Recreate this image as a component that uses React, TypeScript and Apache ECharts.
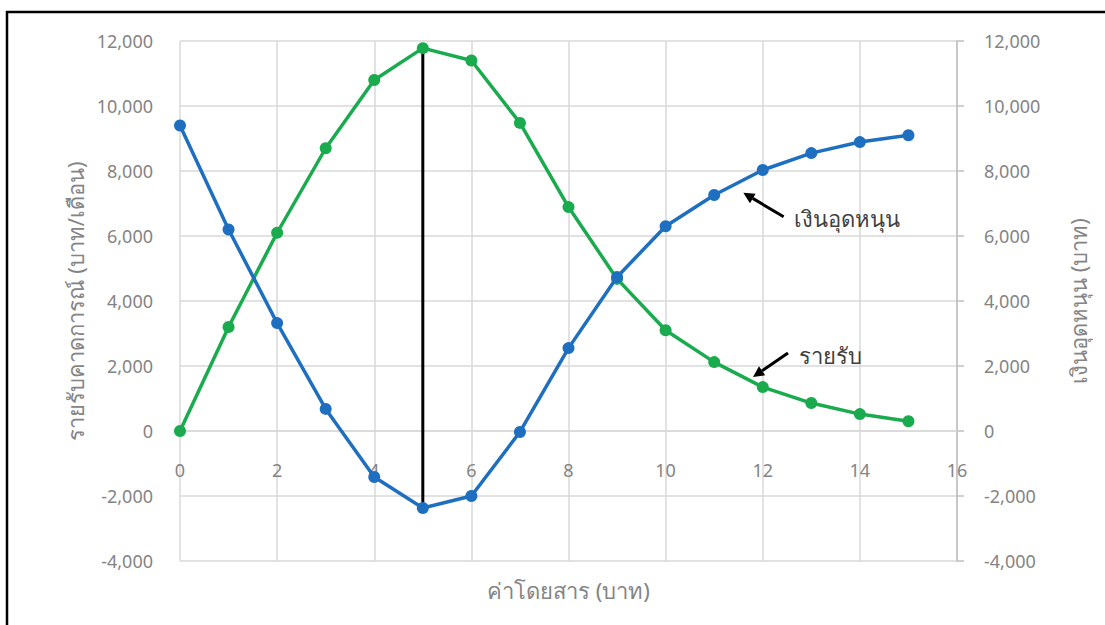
import React, { useEffect, useRef } from "react";
import * as echarts from "echarts";

// Fare levels (บาท)
const fares = [0, 1, 2, 3, 4, 5, 6, 7, 8, 9, 10, 11, 12, 13, 14, 15];
// Expected monthly revenue (บาท/เดือน)
const revenue = [0, 3200, 6100, 8700, 10800, 11780, 11400, 9480, 6890, 4680, 3100, 2120, 1350, 860, 520, 300];
// Subsidy (บาท)
const subsidy = [9400, 6200, 3320, 680, -1415, -2370, -2000, -30, 2550, 4740, 6300, 7260, 8030, 8550, 8890, 9100];

const revenueName = "รายรับ";
const subsidyName = "เงินอุดหนุน";
const xTitle = "ค่าโดยสาร (บาท)";
const leftTitle = "รายรับคาดการณ์ (บาท/เดือน)";
const rightTitle = "เงินอุดหนุน (บาท)";

// Fare at which revenue peaks and the subsidy bottoms out
const markFare = 5;

// Axis ranges
const X_MIN = 0;
const X_MAX = 16;
const X_STEP = 2;
const Y_MIN = -4000;
const Y_MAX = 12000;
const Y_STEP = 2000;

// Annotation anchors in data coordinates: arrow tip, arrow tail, label start
const subsidyNote = { tip: [11.6, 7330], tail: [12.43, 6590], label: [12.65, 6560] };
const revenueNote = { tip: [11.8, 1660], tail: [12.52, 2400], label: [12.75, 2340] };

const GRAY = "#848484";
const GRID = "#d9d9d9";
const BLUE = "#1f6fc0";
const GREEN = "#1aab4f";
const FONT = "'Noto Sans', 'Open Sans', sans-serif";

const GRID_BOX = { left: 180, right: 148, top: 41, bottom: 64 };
const HEIGHT = 625;

const fmt = (v: number) => v.toLocaleString("en-US");

export default function App() {
  const ref = useRef<HTMLDivElement>(null);

  useEffect(() => {
    if (!ref.current) return;
    const chart = echarts.init(ref.current, undefined, { renderer: "svg" });
    const markIdx = fares.indexOf(markFare);

    // The fare axis sits on the y = 0 line; shift it up from the grid bottom.
    const plotH = HEIGHT - GRID_BOX.top - GRID_BOX.bottom;
    const zeroOffset = -plotH * ((0 - Y_MIN) / (Y_MAX - Y_MIN));

    const yAxisCommon = {
      type: "value",
      min: Y_MIN,
      max: Y_MAX,
      interval: Y_STEP,
      nameLocation: "middle",
      nameRotate: 90,
      nameTextStyle: { color: GRAY, fontSize: 22, fontFamily: FONT },
      axisLabel: { color: GRAY, fontSize: 18, margin: 27, fontFamily: FONT, formatter: fmt },
    };

    chart.setOption({
      animation: false,
      backgroundColor: "#fff",
      textStyle: { fontFamily: FONT },
      grid: { ...GRID_BOX, outerBoundsMode: "none", containLabel: false },
      xAxis: {
        type: "value",
        min: X_MIN,
        max: X_MAX,
        interval: X_STEP,
        position: "bottom",
        offset: zeroOffset,
        name: xTitle,
        nameLocation: "middle",
        nameGap: 148,
        nameTextStyle: { color: GRAY, fontSize: 22, fontFamily: FONT },
        axisLine: { show: true, onZero: false, lineStyle: { color: GRID, width: 1.5 } },
        axisTick: { show: false },
        axisLabel: { color: GRAY, fontSize: 18, margin: 30, fontFamily: FONT },
        splitLine: { show: true, lineStyle: { color: GRID, width: 1.5 } },
      },
      yAxis: [
        {
          ...yAxisCommon,
          position: "left",
          name: leftTitle,
          nameGap: 93,
          axisLine: { show: false, onZero: false },
          axisTick: { show: false },
          splitLine: { show: true, lineStyle: { color: GRID, width: 1.5 } },
        },
        {
          ...yAxisCommon,
          position: "right",
          name: rightTitle,
          nameGap: 110,
          axisLine: { show: true, onZero: false, lineStyle: { color: "#bfbfbf", width: 1.5 } },
          axisTick: { show: true, length: 7, lineStyle: { color: "#bfbfbf", width: 1.5 } },
          splitLine: { show: false },
        },
      ],
      series: [
        {
          name: "peak",
          type: "line",
          data: [
            [markFare, subsidy[markIdx]],
            [markFare, revenue[markIdx]],
          ],
          symbol: "none",
          lineStyle: { color: "#000", width: 3 },
          z: 1,
        },
        {
          name: revenueName,
          type: "line",
          data: fares.map((f, i) => [f, revenue[i]]),
          symbol: "circle",
          symbolSize: 12,
          itemStyle: { color: GREEN },
          lineStyle: { color: GREEN, width: 3.5 },
          z: 3,
        },
        {
          name: subsidyName,
          type: "line",
          yAxisIndex: 1,
          data: fares.map((f, i) => [f, subsidy[i]]),
          symbol: "circle",
          symbolSize: 12,
          itemStyle: { color: BLUE },
          lineStyle: { color: BLUE, width: 3.5 },
          z: 4,
        },
      ],
    });

    const px = (p: number[]) => chart.convertToPixel({ gridIndex: 0 }, p) as number[];

    const arrow = (tipD: number[], tailD: number[]) => {
      const tip = px(tipD);
      const tail = px(tailD);
      const dx = tip[0] - tail[0];
      const dy = tip[1] - tail[1];
      const len = Math.hypot(dx, dy);
      const ux = dx / len;
      const uy = dy / len;
      const headLen = 11;
      const headW = 5.5;
      const bx = tip[0] - ux * headLen;
      const by = tip[1] - uy * headLen;
      return [
        {
          type: "line",
          shape: { x1: tail[0], y1: tail[1], x2: bx, y2: by },
          style: { stroke: "#000", lineWidth: 3 },
          z: 10,
        },
        {
          type: "polygon",
          shape: {
            points: [
              [tip[0], tip[1]],
              [bx - uy * headW, by + ux * headW],
              [bx + uy * headW, by - ux * headW],
            ],
          },
          style: { fill: "#000" },
          z: 10,
        },
      ];
    };

    const label = (pos: number[], text: string) => {
      const p = px(pos);
      return {
        type: "text",
        x: p[0],
        y: p[1],
        style: {
          text,
          fill: "#404040",
          font: `22px ${FONT}`,
          textAlign: "left",
          textVerticalAlign: "middle",
        },
        z: 10,
      };
    };

    chart.setOption({
      graphic: [
        // Frame around the figure
        {
          type: "rect",
          shape: { x: 7, y: 12, width: 1200, height: 700 },
          style: { fill: "none", stroke: "#000", lineWidth: 2.5 },
          z: 20,
        },
        ...arrow(subsidyNote.tip, subsidyNote.tail),
        label(subsidyNote.label, subsidyName),
        ...arrow(revenueNote.tip, revenueNote.tail),
        label(revenueNote.label, revenueName),
      ],
    });

    return () => chart.dispose();
  }, []);

  return (
    <div
      ref={ref}
      style={{ position: "fixed", left: 0, top: 0, width: 1105, height: 625 }}
    />
  );
}
